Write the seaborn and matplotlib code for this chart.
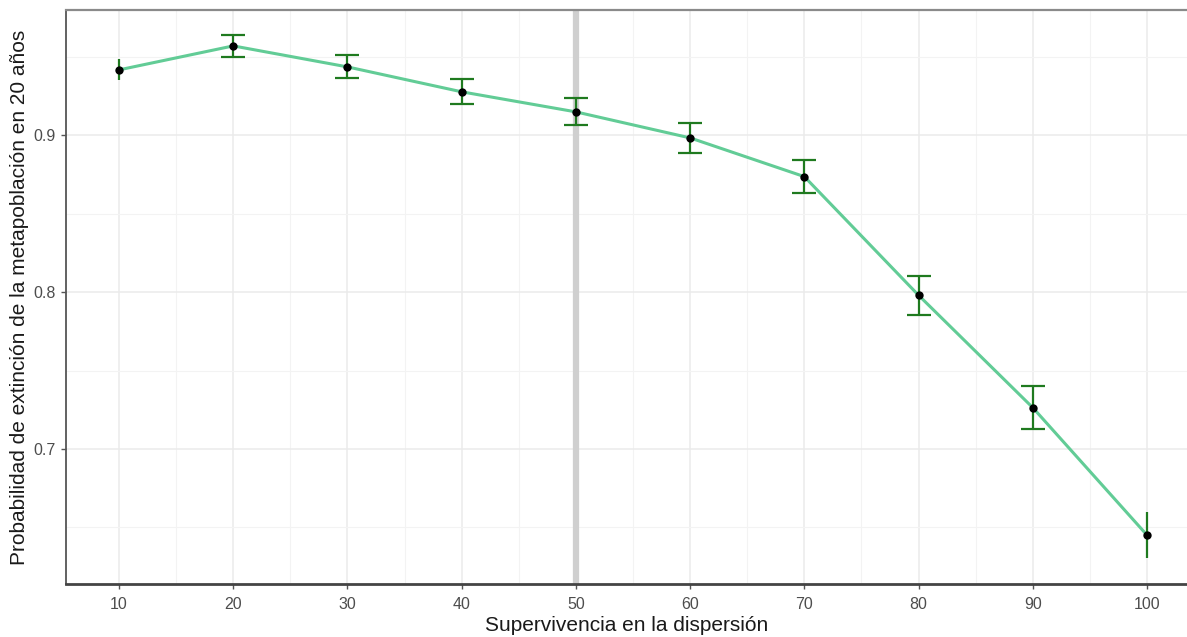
import matplotlib
matplotlib.use("Agg")
import matplotlib.pyplot as plt
import seaborn as sns
import pandas as pd
import numpy as np
from matplotlib.ticker import MultipleLocator

supervivencia = [10, 20, 30, 40, 50, 60, 70, 80, 90, 100]
prob_extincion = [0.9418, 0.9571, 0.9437, 0.9278, 0.915, 0.8984, 0.8737, 0.798, 0.7263, 0.645]
error = [0.0067, 0.0070, 0.0073, 0.0080, 0.0086, 0.0096, 0.0104, 0.0124, 0.0138, 0.0147]
x_ticks = [10, 20, 30, 40, 50, 60, 70, 80, 90, 100]
y_ticks = [0.7, 0.8, 0.9]
ref_line = 50

df = pd.DataFrame({"sup": supervivencia, "prob": prob_extincion, "err": error})

sns.set_theme(style="whitegrid")
plt.rcParams["font.family"] = ["Liberation Sans", "DejaVu Sans"]

fig = plt.figure(figsize=(11.87, 6.37), dpi=100)
ax = fig.add_axes([66 / 1187, 53 / 637, 1121 / 1187, 574 / 637])
ax.set_facecolor("white")

ax.axvline(ref_line, color="#cfcfcf", lw=4.5, zorder=1)

sns.lineplot(data=df, x="sup", y="prob", ax=ax, color="#62cc96", lw=2.2, zorder=2)

inner = df.iloc[1:-1]
ends = df.iloc[[0, -1]]
ax.errorbar(inner["sup"], inner["prob"], yerr=inner["err"], fmt="none",
            ecolor="#1f7a1f", elinewidth=1.6, capsize=8.6, capthick=1.6, zorder=3)
ax.errorbar(ends["sup"], ends["prob"], yerr=ends["err"], fmt="none",
            ecolor="#1f7a1f", elinewidth=1.6, capsize=0, zorder=3)

sns.scatterplot(data=df, x="sup", y="prob", ax=ax, color="black", s=36,
                edgecolor="black", linewidth=0, zorder=4)

ax.set_xlim(5.36, 103.5)
ax.set_ylim(0.6138, 0.980)
ax.set_xticks(x_ticks)
ax.set_yticks(y_ticks)
ax.set_yticklabels([str(v) for v in y_ticks])
ax.xaxis.set_minor_locator(MultipleLocator(5))
ax.yaxis.set_minor_locator(MultipleLocator(0.05))

ax.grid(which="major", color="#ebebeb", lw=1.1, zorder=0)
ax.grid(which="minor", color="#f3f3f3", lw=0.8, zorder=0)
ax.set_axisbelow(True)

ax.spines["right"].set_visible(False)
ax.spines["top"].set_color("#8a8a8a")
ax.spines["top"].set_linewidth(1.6)
ax.spines["left"].set_color("#555555")
ax.spines["left"].set_linewidth(1.3)
ax.spines["bottom"].set_color("#444444")
ax.spines["bottom"].set_linewidth(2.0)

ax.tick_params(axis="both", which="major", length=3.5, width=1.0, color="#555555",
               labelcolor="#4d4d4d", labelsize=11.5, direction="out", pad=4)
ax.tick_params(axis="x", which="major", pad=6)
ax.tick_params(axis="both", which="minor", length=0)
ax.tick_params(axis="x", bottom=True)
ax.tick_params(axis="y", left=True)

ax.set_xlabel("Supervivencia en la dispersión", fontsize=15, color="#1a1a1a", labelpad=3)
ax.set_ylabel("Probabilidad de extinción de la metapoblación en 20 años", fontsize=15,
              color="#1a1a1a", labelpad=3)

fig.savefig("out.png", dpi=100)
